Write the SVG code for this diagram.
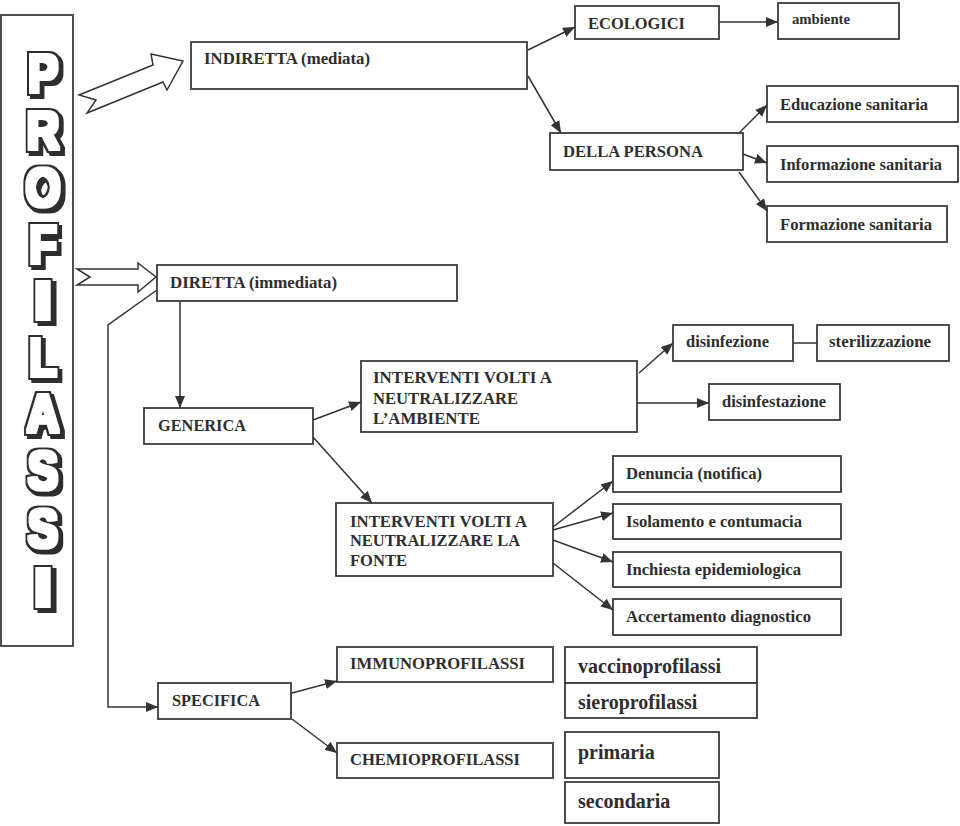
<svg xmlns="http://www.w3.org/2000/svg" width="960" height="826" viewBox="0 0 960 826">
<defs>
<marker id="ah" markerUnits="userSpaceOnUse" markerWidth="12" markerHeight="10" refX="12" refY="5" orient="auto">
<path d="M0,0 L12,5 L0,10 z" fill="#333"/>
</marker>
<filter id="bigf" x="-80%" y="-30%" width="260%" height="170%">
<feMorphology in="SourceAlpha" operator="dilate" radius="3.6 3" result="o"/>
<feMorphology in="SourceAlpha" operator="dilate" radius="2.1 1.75" result="i"/>
<feOffset in="o" dx="3" dy="2.5" result="s"/>
<feFlood flood-color="#2e2e2e" result="dk"/>
<feComposite in="dk" in2="s" operator="in" result="sd"/>
<feComposite in="dk" in2="o" operator="in" result="od"/>
<feFlood flood-color="#ffffff" result="wh"/>
<feComposite in="wh" in2="i" operator="in" result="iw"/>
<feMerge><feMergeNode in="sd"/><feMergeNode in="od"/><feMergeNode in="iw"/></feMerge>
</filter>
</defs>
<style>
rect.b{fill:#fff;stroke:#3c3c3c;stroke-width:1.8}
text{font-family:"Liberation Serif","Times New Roman",serif;font-weight:bold;font-size:17px;fill:#2e2e2e}
text.s{font-size:14.5px}
text.l{font-size:20px}
.c line,.c polyline{stroke:#333;stroke-width:1.5;fill:none}
.c .a{marker-end:url(#ah)}
.bl{stroke:#333;stroke-width:1.5;fill:#fff}
text.big{font-family:"Liberation Sans",Arial,sans-serif;font-weight:bold;font-size:45px;text-anchor:middle;fill:#000;filter:url(#bigf)}
</style>
<rect width="960" height="826" fill="#fff"/>

<g id="profilassi">
<rect class="b" x="1" y="15" width="72" height="631"/>
<text class="big" transform="translate(43,92) scale(1,1.2)">P</text>
<text class="big" transform="translate(43,149) scale(1,1.2)">R</text>
<text class="big" transform="translate(43,206) scale(1,1.2)">O</text>
<text class="big" transform="translate(43,263) scale(1,1.2)">F</text>
<text class="big" transform="translate(43,319) scale(1.4,1.2)">I</text>
<text class="big" transform="translate(43,376) scale(1,1.2)">L</text>
<text class="big" transform="translate(43,432) scale(1,1.2)">A</text>
<text class="big" transform="translate(43,489) scale(1,1.2)">S</text>
<text class="big" transform="translate(43,547) scale(1,1.2)">S</text>
<text class="big" transform="translate(43,606) scale(1.4,1.2)">I</text>
</g>

<g id="indiretta"><rect class="b" x="191" y="42" width="336" height="47"/><text x="204" y="64" textLength="166" lengthAdjust="spacingAndGlyphs">INDIRETTA (mediata)</text></g>
<g id="ecologici"><rect class="b" x="575" y="6" width="144" height="33"/><text x="588" y="29" textLength="97" lengthAdjust="spacingAndGlyphs">ECOLOGICI</text></g>
<g id="ambiente"><rect class="b" x="778" y="3" width="121" height="36"/><text class="s" x="792" y="24" textLength="58" lengthAdjust="spacingAndGlyphs">ambiente</text></g>
<g id="persona"><rect class="b" x="550" y="133" width="193" height="37"/><text x="563" y="157" textLength="140" lengthAdjust="spacingAndGlyphs">DELLA PERSONA</text></g>
<g id="educazione"><rect class="b" x="767" y="86" width="191" height="36"/><text x="780" y="110" textLength="148" lengthAdjust="spacingAndGlyphs">Educazione sanitaria</text></g>
<g id="informazione"><rect class="b" x="767" y="146" width="191" height="36"/><text x="780" y="170" textLength="162" lengthAdjust="spacingAndGlyphs">Informazione sanitaria</text></g>
<g id="formazione"><rect class="b" x="767" y="206" width="180" height="36"/><text x="780" y="230" textLength="152" lengthAdjust="spacingAndGlyphs">Formazione sanitaria</text></g>
<g id="diretta"><rect class="b" x="157" y="265" width="300" height="36"/><text x="170" y="288" textLength="167" lengthAdjust="spacingAndGlyphs">DIRETTA (immediata)</text></g>
<g id="generica"><rect class="b" x="144" y="408" width="169" height="36"/><text x="158" y="431" textLength="88" lengthAdjust="spacingAndGlyphs">GENERICA</text></g>
<g id="int-ambiente"><rect class="b" x="361" y="361" width="276" height="71"/>
<text x="373" y="383" textLength="179" lengthAdjust="spacingAndGlyphs">INTERVENTI VOLTI A</text>
<text x="373" y="404" textLength="145" lengthAdjust="spacingAndGlyphs">NEUTRALIZZARE</text>
<text x="373" y="424" textLength="107" lengthAdjust="spacingAndGlyphs">L’AMBIENTE</text></g>
<g id="disinfezione"><rect class="b" x="673" y="325" width="120" height="36"/><text x="686" y="347" textLength="83" lengthAdjust="spacingAndGlyphs">disinfezione</text></g>
<g id="sterilizzazione"><rect class="b" x="817" y="325" width="132" height="36"/><text x="829" y="347" textLength="102" lengthAdjust="spacingAndGlyphs">sterilizzazione</text></g>
<g id="disinfestazione"><rect class="b" x="709" y="384" width="131" height="36"/><text x="722" y="407" textLength="104" lengthAdjust="spacingAndGlyphs">disinfestazione</text></g>
<g id="int-fonte"><rect class="b" x="336" y="503" width="217" height="73"/>
<text x="350" y="527" textLength="177" lengthAdjust="spacingAndGlyphs">INTERVENTI VOLTI A</text>
<text x="350" y="546" textLength="170" lengthAdjust="spacingAndGlyphs">NEUTRALIZZARE LA</text>
<text x="350" y="566" textLength="57" lengthAdjust="spacingAndGlyphs">FONTE</text></g>
<g id="denuncia"><rect class="b" x="613" y="456" width="228" height="36"/><text x="626" y="479" textLength="136" lengthAdjust="spacingAndGlyphs">Denuncia (notifica)</text></g>
<g id="isolamento"><rect class="b" x="613" y="504" width="228" height="35"/><text x="626" y="527" textLength="176" lengthAdjust="spacingAndGlyphs">Isolamento e contumacia</text></g>
<g id="inchiesta"><rect class="b" x="613" y="552" width="228" height="35"/><text x="626" y="575" textLength="175" lengthAdjust="spacingAndGlyphs">Inchiesta epidemiologica</text></g>
<g id="accertamento"><rect class="b" x="613" y="599" width="228" height="36"/><text x="626" y="622" textLength="185" lengthAdjust="spacingAndGlyphs">Accertamento diagnostico</text></g>
<g id="specifica"><rect class="b" x="158" y="683" width="133" height="36"/><text x="172" y="706" textLength="88" lengthAdjust="spacingAndGlyphs">SPECIFICA</text></g>
<g id="immuno"><rect class="b" x="337" y="647" width="216" height="35"/><text x="350" y="669" textLength="175" lengthAdjust="spacingAndGlyphs">IMMUNOPROFILASSI</text></g>
<g id="chemio"><rect class="b" x="337" y="743" width="216" height="35"/><text x="350" y="765" textLength="170" lengthAdjust="spacingAndGlyphs">CHEMIOPROFILASSI</text></g>
<g id="vaccino"><rect class="b" x="565" y="647" width="192" height="36"/><text class="l" x="578" y="673">vaccinoprofilassi</text></g>
<g id="siero"><rect class="b" x="565" y="683" width="192" height="35"/><text class="l" x="578" y="709">sieroprofilassi</text></g>
<g id="primaria"><rect class="b" x="565" y="732" width="154" height="46"/><text class="l" x="578" y="759">primaria</text></g>
<g id="secondaria"><rect class="b" x="565" y="782" width="154" height="41"/><text class="l" x="578" y="808">secondaria</text></g>

<g id="connectors" class="c">
<polygon class="bl" points="79,95 153,65 151,54 183,61 167,90 163,82 87,113 96,100"/>
<polygon class="bl" points="77,269 138,269 138,263 156,277 138,292 138,285 77,285 90,277"/>
<line class="a" x1="528" y1="50" x2="575" y2="27"/>
<line class="a" x1="719" y1="22" x2="778" y2="22"/>
<line class="a" x1="528" y1="76" x2="561" y2="133"/>
<line class="a" x1="739" y1="133" x2="767" y2="105"/>
<line class="a" x1="743" y1="154" x2="767" y2="163"/>
<line class="a" x1="739" y1="172" x2="767" y2="211"/>
<line class="a" x1="180" y1="301" x2="180" y2="408"/>
<polyline class="a" points="157,290 108,325 108,707 158,707"/>
<line class="a" x1="313" y1="420" x2="361" y2="402"/>
<line class="a" x1="313" y1="437" x2="372" y2="503"/>
<line class="a" x1="639" y1="373" x2="673" y2="343"/>
<line x1="793" y1="343" x2="817" y2="343"/>
<line class="a" x1="637" y1="403" x2="709" y2="403"/>
<line class="a" x1="553" y1="527" x2="613" y2="481"/>
<line class="a" x1="553" y1="530" x2="613" y2="513"/>
<line class="a" x1="553" y1="540" x2="613" y2="562"/>
<line class="a" x1="553" y1="563" x2="613" y2="610"/>
<line class="a" x1="292" y1="693" x2="337" y2="681"/>
<line class="a" x1="292" y1="719" x2="337" y2="753"/>
</g>
</svg>
